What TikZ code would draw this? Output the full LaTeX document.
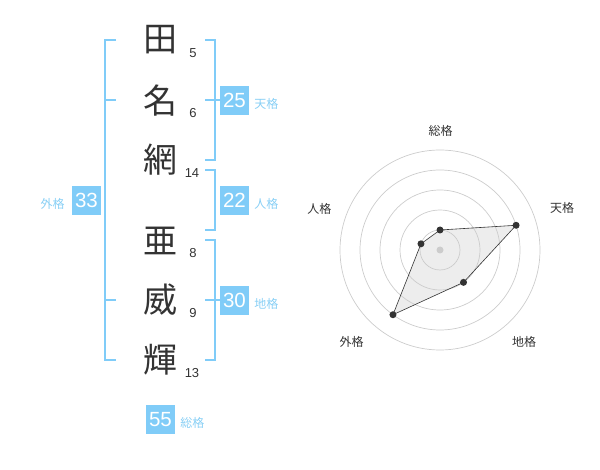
\documentclass[tikz,border=0pt]{standalone}
\usepackage{fontspec}
\usepackage{xcolor}
\usepackage{tikz}
\usetikzlibrary{positioning}
\setmainfont{Liberation Sans}
\newfontfamily\jp{Noto Sans CJK JP}
\definecolor{kakublue}{HTML}{80CCF8}
\definecolor{kakutext}{HTML}{88CFF5}
\definecolor{inkgray}{HTML}{333333}
\definecolor{ringgray}{HTML}{CCCCCC}

\begin{document}
\begin{tikzpicture}[
    x=1pt, y=-1pt,
    node distance=4pt,
    kanji/.style={inner sep=0pt, text=inkgray, font=\jp\fontsize{34}{34}\selectfont},
    strokes/.style={inner sep=0pt, text=inkgray, font=\fontsize{13}{13}\selectfont},
    kakubox/.style={rectangle, fill=kakublue, text=white, minimum size=29pt, inner sep=0pt, font=\fontsize{20.5}{20.5}\selectfont},
    kakulabel/.style={inner sep=1pt, text=kakutext, yshift=-3.5pt, font=\jp\fontsize{12}{12}\selectfont},
    bracket/.style={draw=kakublue, line width=2pt},
    ring/.style={draw=ringgray, line width=0.7pt},
    axislabel/.style={inner sep=0pt, text=inkgray, font=\jp\fontsize{12}{12}\selectfont},
    dot/.style={circle, fill=inkgray, inner sep=0pt, minimum size=7pt}
]
\useasboundingbox (0,0) rectangle (600,470);

% name characters
\node[kanji] (k1) at (160,40) {田};
\node[kanji] (k2) at (160,101) {名};
\node[kanji] (k3) at (160,160) {網};
\node[kanji] (k4) at (160,241) {亜};
\node[kanji] (k5) at (160,300) {威};
\node[kanji] (k6) at (160,360) {輝};

\node[strokes] (s1) at (193,53) {5};
\node[strokes] (s2) at (193,113) {6};
\node[strokes] (s3) at (192,173) {14};
\node[strokes] (s4) at (193,253) {8};
\node[strokes] (s5) at (193,313) {9};
\node[strokes] (s6) at (192,373) {13};

% brackets
\draw[bracket] (116,40) -- (105,40) -- (105,360) -- (116,360);
\draw[bracket] (105,100) -- (116,100);
\draw[bracket] (105,300) -- (116,300);
\draw[bracket] (205,40) -- (214.5,40) -- (214.5,160) -- (205,160);
\draw[bracket] (205,100) -- (220,100);
\draw[bracket] (205,170) -- (214.5,170) -- (214.5,230) -- (205,230);
\draw[bracket] (205,240) -- (214.5,240) -- (214.5,360) -- (205,360);
\draw[bracket] (205,300) -- (220,300);

% totals
\node[kakubox] (ten) at (234.5,100.5) {25};
\node[kakulabel, right=of ten] (tenlbl) {天格};
\node[kakubox] (jin) at (234.5,200.5) {22};
\node[kakulabel, right=of jin] (jinlbl) {人格};
\node[kakubox] (chi) at (234.5,300.5) {30};
\node[kakulabel, right=of chi] (chilbl) {地格};
\node[kakubox] (gai) at (86.5,200.5) {33};
\node[kakulabel, left=6pt of gai] (gailbl) {外格};
\node[kakubox] (sou) at (160.5,419.5) {55};
\node[kakulabel, right=of sou] (soulbl) {総格};

% radar chart
\begin{scope}[shift={(440,250)}]
\coordinate (c) at (0,0);
\coordinate (p1) at (-90:20);
\coordinate (p2) at (-18:80);
\coordinate (p3) at (54:40);
\coordinate (p4) at (126:80);
\coordinate (p5) at (198:20);
\fill[gray!20, opacity=0.7] (p1) -- (p2) -- (p3) -- (p4) -- (p5) -- cycle;
\draw[ring] (c) circle[radius=20];
\draw[ring] (c) circle[radius=40];
\draw[ring] (c) circle[radius=60];
\draw[ring] (c) circle[radius=80];
\draw[ring] (c) circle[radius=100];
\fill[ringgray] (c) circle[radius=3.5];
\draw[inkgray, line width=0.6pt] (p1) -- (p2) -- (p3) -- (p4) -- (p5) -- cycle;
\node[dot] at (p1) {};
\node[dot] at (p2) {};
\node[dot] at (p3) {};
\node[dot] at (p4) {};
\node[dot] at (p5) {};
\node[axislabel] (ax1) at (0.7,-119.3) {総格};
\node[axislabel] (ax2) at (122,-42) {天格};
\node[axislabel] (ax3) at (84,91.7) {地格};
\node[axislabel] (ax4) at (-88.3,91.7) {外格};
\node[axislabel] (ax5) at (-120.7,-40.7) {人格};
\end{scope}

\end{tikzpicture}
\end{document}
